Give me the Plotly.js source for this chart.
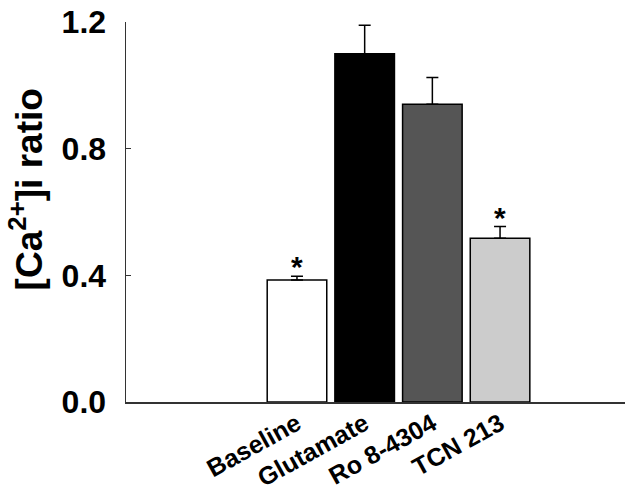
<!DOCTYPE html>
<html>
<head>
<meta charset="utf-8">
<script src="https://cdn.plot.ly/plotly-3.0.1.min.js"></script>
<style>
  html, body { margin: 0; padding: 0; background: #fff; }
  #chart { width: 629px; height: 488px; }
</style>
</head>
<body>
<div id="chart"></div>
<script>
const categories = ['Baseline', 'Glutamate', 'Ro 8-4304', 'TCN 213'];
const ratioValues = [0.385, 1.10, 0.94, 0.517];
const ratioErrors = [0.012, 0.09, 0.085, 0.037];
const barColors = ['#ffffff', '#000000', '#555555', '#cccccc'];
const significant = [true, false, false, true];
const yTickVals = [0.0, 0.4, 0.8, 1.2];
const yTickText = ['0.0', '0.4', '0.8', '1.2'];
const yTitle = '[Ca<sup>2+</sup>]i ratio';

const positions = categories.map((c, i) => i);
const fontFamily = 'Liberation Sans, Arial, sans-serif';

const trace = {
  type: 'bar',
  x: positions,
  y: ratioValues,
  width: 0.88,
  marker: { color: barColors, line: { color: '#000', width: 1.5 } },
  error_y: {
    type: 'data',
    symmetric: false,
    array: ratioErrors,
    arrayminus: ratioErrors.map(() => 0),
    color: '#000',
    thickness: 1.5,
    width: 6,
  },
  hoverinfo: 'skip',
};

const annotations = [];
positions.forEach((p, i) => {
  if (!significant[i]) return;
  annotations.push({
    x: p,
    y: ratioValues[i] + ratioErrors[i],
    xref: 'x', yref: 'y',
    text: '*',
    showarrow: false,
    yanchor: 'bottom',
    yshift: -9,
    font: { family: fontFamily, size: 30, weight: 'bold', color: '#000' },
  });
});

// y axis title as a rotated annotation so it can sit a bit above centre
annotations.push({
  xref: 'paper', yref: 'paper',
  x: -0.188, y: 0.56,
  xshift: -6,
  xanchor: 'center', yanchor: 'middle',
  text: yTitle,
  textangle: -90,
  showarrow: false,
  font: { family: fontFamily, size: 37, weight: 'bold', color: '#000' },
});

const layout = {
  width: 629,
  height: 488,
  margin: { t: 22, r: 4, b: 86, l: 126 },
  showlegend: false,
  plot_bgcolor: '#fff',
  paper_bgcolor: '#fff',
  font: { family: fontFamily, color: '#000' },
  xaxis: {
    range: [-2.526, 4.846],
    tickvals: positions,
    ticktext: categories,
    tickangle: -29,
    ticks: '',
    ticklabelstandoff: -4,
    showgrid: false,
    zeroline: false,
    showline: true,
    linecolor: '#333',
    linewidth: 1.5,
    tickfont: { family: fontFamily, size: 25, weight: 'bold', color: '#000' },
  },
  yaxis: {
    range: [0, 1.2],
    tickvals: yTickVals,
    ticktext: yTickText,
    ticks: 'inside',
    ticklen: 5,
    tickcolor: '#333',
    tickwidth: 1.5,
    ticklabelstandoff: 12,
    showgrid: false,
    zeroline: false,
    showline: true,
    linecolor: '#333',
    linewidth: 1.5,
    tickfont: { family: fontFamily, size: 32, weight: 'bold', color: '#000' },
  },
  annotations: annotations,
};

Plotly.newPlot('chart', [trace], layout, { displayModeBar: false, staticPlot: true });
</script>
</body>
</html>
